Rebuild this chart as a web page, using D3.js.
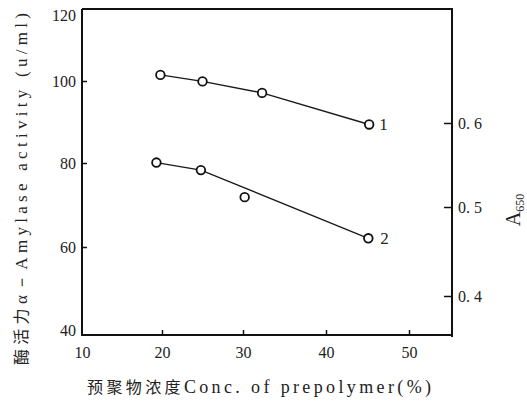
<!DOCTYPE html>
<html>
<head>
<meta charset="utf-8">
<script src="https://cdn.jsdelivr.net/npm/d3@7"></script>
<style>
  html, body { margin: 0; padding: 0; background: #fff; }
  svg { display: block; }
  text { font-family: "Liberation Serif", "DejaVu Serif", serif; fill: #222; }
  .cjk { font-family: "Noto Sans CJK SC", sans-serif; }
</style>
</head>
<body>
<svg id="chart" width="527" height="404"></svg>
<script>
// Prepolymer concentration (%) and measured responses
const conc1 = [19.8, 25, 32.3, 45.2];
const activity = [101.7, 99.9, 97.1, 89.4];          // curve 1, α-amylase activity (u/ml)
const conc2 = [19.3, 24.8, 30.2, 45.1];
const absorbance = [0.554, 0.545, 0.512, 0.466];     // curve 2, A650
const fitIndex2 = [0, 1, 3];                          // points the trend of curve 2 is drawn through

const xTicks = [10, 20, 30, 40, 50];
const yTicks = [40, 60, 80, 100, 120];
const rTicks = [0.4, 0.5, 0.6];
const rMinor = [0.45, 0.55];

const serif = "'Liberation Serif', 'DejaVu Serif', serif";
const svg = d3.select("#chart");
const frame = { left: 82, right: 452, top: 9, bottom: 335 };

// Axis calibration of the printed figure (piecewise linear scales)
const x = d3.scaleLinear().domain([10, 20, 30, 40, 50]).range([82, 162, 243, 326, 409]);
const y = d3.scaleLinear().domain([40, 60, 80, 100, 120]).range([334, 247, 163, 81, 9]);
const yR = d3.scaleLinear().domain([0.4, 0.45, 0.5, 0.55, 0.6]).range([296, 253, 207, 166, 123]);

// Frame
const ink = "#111";
svg.append("path")
  .attr("d", `M${frame.left},${frame.top}H${frame.right}V${frame.bottom + 2}M${frame.left},${frame.top}V${frame.bottom}H${frame.right}`)
  .attr("fill", "none").attr("stroke", ink).attr("stroke-width", 2);

// Bottom axis: inward ticks
const bottomAxis = d3.axisBottom(x).tickValues(xTicks).tickSize(-5).tickPadding(12)
  .tickFormat(d3.format("d"));
const gb = svg.append("g").attr("transform", `translate(0,${frame.bottom})`).call(bottomAxis)
  .attr("font-family", serif).attr("font-size", 16);
gb.select(".domain").remove();
gb.selectAll(".tick line").attr("stroke", ink).attr("stroke-width", 1.5)
  .filter(d => d === 10).remove();
gb.selectAll(".tick text").attr("fill", "#2a2a2a");

// Left axis: inward ticks
const leftAxis = d3.axisLeft(y).tickValues(yTicks).tickSize(-5).tickPadding(6)
  .tickFormat(d3.format("d"));
const gl = svg.append("g").attr("transform", `translate(${frame.left},0)`).call(leftAxis)
  .attr("font-family", serif).attr("font-size", 16);
gl.select(".domain").remove();
gl.selectAll(".tick line").attr("stroke", ink).attr("stroke-width", 1.5)
  .filter(d => d === 40 || d === 120).remove();
gl.selectAll(".tick text").attr("fill", "#333");
gl.selectAll(".tick text").filter(d => d === 120).attr("dy", "0.7em").attr("fill", "#666");
gl.selectAll(".tick text").filter(d => d === 40).attr("dy", "0.1em");

// Right axis: inward ticks, labels outside
const rightAxis = d3.axisRight(yR).tickValues(rTicks).tickSize(-8).tickPadding(6)
  .tickFormat(d => d3.format(".1f")(d).replace(".", ". "));
const gr = svg.append("g").attr("transform", `translate(${frame.right},0)`).call(rightAxis)
  .attr("font-family", serif).attr("font-size", 16);
gr.select(".domain").remove();
gr.selectAll(".tick line").attr("stroke", ink).attr("stroke-width", 1.5);
gr.selectAll(".tick text").attr("fill", "#2a2a2a");
gr.selectAll(".minor").data(rMinor).join("line")
  .attr("x1", frame.right).attr("x2", frame.right - 5)
  .attr("y1", d => yR(d)).attr("y2", d => yR(d))
  .attr("stroke", ink).attr("stroke-width", 1.3);

// Curve 1: line through all points
const line1 = d3.line().x(d => x(d[0])).y(d => y(d[1]));
const pts1 = conc1.map((c, i) => [c, activity[i]]);
svg.append("path").datum(pts1).attr("d", line1)
  .attr("fill", "none").attr("stroke", "#1a1a1a").attr("stroke-width", 1.4);

// Curve 2: trend line, drawn on the A650 scale
const pts2 = conc2.map((c, i) => [c, absorbance[i]]);
const line2 = d3.line().x(d => x(d[0])).y(d => yR(d[1]));
svg.append("path").datum(fitIndex2.map(i => pts2[i])).attr("d", line2)
  .attr("fill", "none").attr("stroke", "#1a1a1a").attr("stroke-width", 1.3);

// Open circle markers
svg.selectAll(".m1").data(pts1).join("circle")
  .attr("cx", d => x(d[0])).attr("cy", d => y(d[1])).attr("r", 4.3)
  .attr("fill", "#fff").attr("stroke", "#111").attr("stroke-width", 1.8);
svg.selectAll(".m2").data(pts2).join("circle")
  .attr("cx", d => x(d[0])).attr("cy", d => yR(d[1])).attr("r", 4.3)
  .attr("fill", "#fff").attr("stroke", "#111").attr("stroke-width", 1.8);

// Curve numbers
const last1 = pts1[pts1.length - 1], last2 = pts2[pts2.length - 1];
svg.append("text").attr("x", x(last1[0]) + 10).attr("y", y(last1[1])).attr("dy", "0.35em")
  .attr("font-size", 17).text("1");
svg.append("text").attr("x", x(last2[0]) + 12).attr("y", yR(last2[1])).attr("dy", "0.35em")
  .attr("font-size", 17).attr("fill", "#333").text("2");

// Axis titles
const yTitle = svg.append("text")
  .attr("transform", "translate(27,189) rotate(-90)")
  .attr("text-anchor", "middle").attr("font-size", 17)
  .attr("textLength", 352).attr("lengthAdjust", "spacing");
yTitle.append("tspan").attr("class", "cjk").attr("font-size", 16).text("酶活力");
yTitle.append("tspan").text("α－Amylase activity (u/ml)");

const xTitle = svg.append("text")
  .attr("x", 259).attr("y", 393)
  .attr("text-anchor", "middle").attr("font-size", 18)
  .attr("textLength", 344).attr("lengthAdjust", "spacing");
xTitle.append("tspan").attr("class", "cjk").attr("font-size", 16).text("预聚物浓度");
xTitle.append("tspan").text("Conc. of prepolymer(%)");

const rTitle = svg.append("text")
  .attr("transform", "translate(520,210) rotate(-90)")
  .attr("text-anchor", "middle").attr("font-size", 20);
rTitle.append("tspan").text("A");
rTitle.append("tspan").attr("font-size", 12).attr("dy", "0.35em").text("650");
</script>
</body>
</html>
